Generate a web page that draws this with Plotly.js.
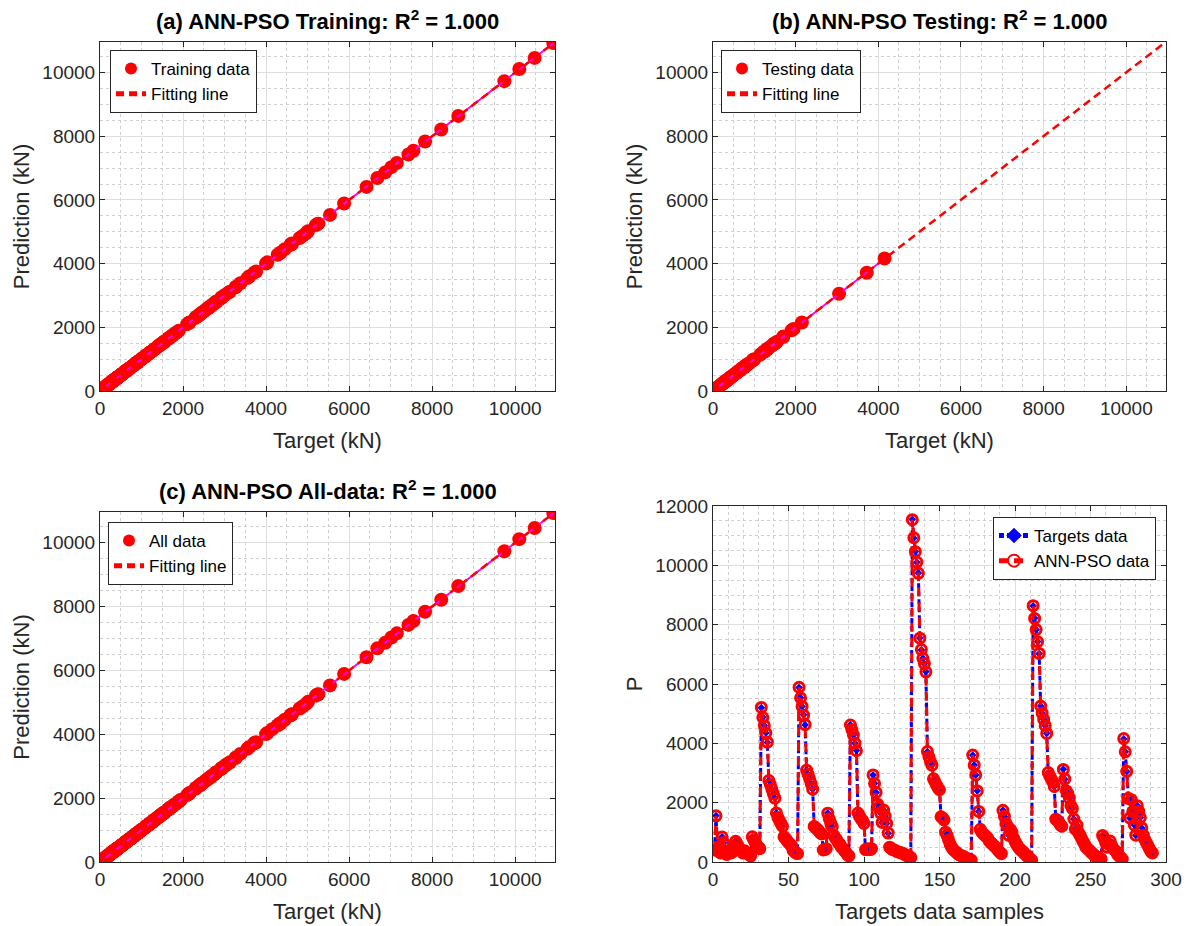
<!DOCTYPE html>
<html>
<head>
<meta charset="utf-8">
<script src="https://cdn.plot.ly/plotly-3.0.1.min.js"></script>
<style>
html,body{margin:0;padding:0;background:#fff;}
#chart{width:1189px;height:926px;}
</style>
</head>
<body>
<div id="chart"></div>
<script>
// ---- Data (sample index starts at 1) ----
const targets = [
400,1560,420,350,300,850,650,300,250,350,
400,300,350,450,700,600,500,400,350,300,
380,320,280,250,200,850,750,650,550,500,450,
5200,4880,4600,4350,4030,
2750,2600,2450,2300,2150,
1650,1500,1400,1300,1200,
850,800,720,650,600,550,400,350,300,280,
5880,5540,5240,4960,4620,
3100,2950,2800,2650,2450,
1200,1150,1100,1050,980,950,
400,420,450,
1650,1450,1300,1190,
900,800,750,650,600,500,450,380,320,250,200,
4620,4450,4280,4000,3760,
1650,1550,1450,1400,1300,
420,430,440,420,450,
2930,2650,2340,1950,1850,1650,1330,1750,1550,1300,970,
500,450,420,400,380,350,330,320,300,280,250,230,200,180,150,
11550,10920,10470,10100,9740,
7550,7150,6870,6680,6420,
3720,3550,3380,3270,2800,2700,2600,2500,2430,
1530,1480,1420,
1000,900,750,600,500,420,380,330,280,250,220,200,180,150,120,100,80,60,
3600,3270,2930,2400,1700,
1100,1000,950,900,850,800,700,650,600,550,500,450,380,320,280,
1750,1530,1300,1200,900,1100,1000,800,700,600,
500,450,400,350,300,250,200,150,100,60,
8630,8220,7830,7430,7020,
5260,5010,4810,4590,4340,
3010,2900,2800,2700,2540,
1440,1400,1350,1250,1200,
3130,2790,
2400,2300,2150,1900,1800,1450,1100,1250,1000,900,800,700,600,500,450,
400,350,300,250,200,170,150,120,100,
900,800,650,500,600,700,550,450,400,350,250,200,150,100,
4150,3720,3050,
2150,1480,2100,1700,1250,900,1900,1700,1500,1150,900,750,650,550,450,350,300
];
const predicted = [
405,1555,425,345,305,845,655,300,255,345,
400,305,350,445,700,605,495,400,355,300,
380,320,285,250,205,850,745,650,550,505,450,
5210,4870,4600,4345,4040,
2745,2605,2450,2295,2150,
1655,1500,1395,1300,1205,
850,795,720,650,605,550,400,350,300,285,
5890,5530,5245,4950,4630,
3095,2955,2800,2645,2455,
1200,1150,1105,1050,980,945,
405,420,450,
1645,1455,1300,1190,
900,805,750,650,600,500,455,380,320,250,205,
4615,4455,4280,4005,3750,
1650,1545,1450,1400,1305,
420,430,445,420,450,
2935,2645,2345,1950,1845,1650,1335,1750,1545,1300,975,
500,450,420,405,380,350,330,320,305,280,250,230,205,180,150,
11540,10930,10460,10110,9730,
7545,7160,6865,6690,6410,
3725,3545,3385,3265,2805,2700,2595,2500,2435,
1525,1485,1420,
1005,900,745,600,500,425,380,330,285,250,220,200,185,150,120,105,80,65,
3605,3265,2935,2395,1705,
1100,1005,950,900,855,800,700,655,600,550,505,450,380,325,280,
1745,1535,1300,1205,900,1095,1000,805,700,600,
505,450,400,355,300,250,205,150,100,65,
8640,8210,7835,7425,7030,
5255,5015,4805,4595,4335,
3015,2895,2805,2700,2545,
1445,1400,1345,1250,1205,
3120,2795,
2395,2305,2150,1905,1800,1450,1105,1245,1000,905,800,700,605,500,450,
405,350,300,255,200,175,150,120,105,
895,800,655,500,600,705,550,450,405,350,250,205,150,100,
4160,3715,3055,
2145,1485,2100,1695,1250,905,1895,1705,1500,1150,905,750,650,555,450,350,305
];
// indices (1-based sample numbers) used for testing; the rest are training
const testIdx = [3,6,9,13,16,20,24,27,30,41,43,47,50,54,68,71,74,77,81,84,88,97,100,103,109,112,116,119,122,126,129,152,156,160,163,167,170,176,179,183,186,190,194,198,203,207,210,228,231,237,241,244,247,251,255,259,263,266,269,272,273,274,276,279,282,286,289];

const titles = [
  '<b>(a) ANN-PSO Training: R<sup>2</sup> = 1.000</b>',
  '<b>(b) ANN-PSO Testing: R<sup>2</sup> = 1.000</b>',
  '<b>(c) ANN-PSO All-data: R<sup>2</sup> = 1.000</b>'
];
const dataNames = ['Training data','Testing data','All data'];
const axisMax = 10960;

// ---- split ----
const testSet = new Set(testIdx);
const trX=[],trY=[],teX=[],teY=[];
targets.forEach((t,i)=>{
  if(testSet.has(i+1)){teX.push(t);teY.push(predicted[i]);}
  else {trX.push(t);trY.push(predicted[i]);}
});
const sets = [[trX,trY],[teX,teY],[targets,predicted]];

function linfit(x,y){
  const n=x.length; let sx=0,sy=0,sxx=0,sxy=0;
  for(let i=0;i<n;i++){sx+=x[i];sy+=y[i];sxx+=x[i]*x[i];sxy+=x[i]*y[i];}
  const b=(n*sxy-sx*sy)/(n*sxx-sx*sx); const a=(sy-b*sx)/n; return [a,b];
}

const FONT = 'Liberation Sans, Arial, Helvetica, sans-serif';
const AXC = '#262626';
function axis(dom, anchor, range, dtick, minor, title, standoff){
  return {
    domain: dom, anchor: anchor, range: range, autorange:false,
    tick0: 0, dtick: dtick, tickformat:'d', ticks:'inside', ticklen:5, tickwidth:1, tickcolor:AXC,
    showline:true, linecolor:AXC, linewidth:1, mirror:'ticks',
    showgrid:true, gridcolor:'#dedede', gridwidth:1, zeroline:false,
    minor:{dtick:minor, tick0:0, showgrid:true, gridcolor:'#cfcfcf', griddash:'dot', gridwidth:1, ticks:''},
    tickfont:{family:FONT, size:19, color:AXC},
    title:{text:title, font:{family:FONT, size:22, color:AXC}, standoff:standoff},
    layer:'below traces'
  };
}

const colL=[100/1189, 555/1189], colR=[713/1189, 1166/1189];
const rowT=[(926-391)/926,(926-42)/926], rowC=[(926-862)/926,(926-512)/926], rowD=[(926-862)/926,(926-506)/926];

const traces=[];
const panels = [
  {xa:'x', ya:'y', leg:'legend'},
  {xa:'x2', ya:'y2', leg:'legend2'},
  {xa:'x3', ya:'y3', leg:'legend3'}
];
panels.forEach((p,k)=>{
  const [x,y]=sets[k];
  traces.push({type:'scatter', mode:'markers', x:x, y:y, xaxis:p.xa, yaxis:p.ya, legend:p.leg,
    name:dataNames[k], marker:{color:'#ff0000', size:14, symbol:'circle'}});
  const [a,b]=linfit(x,y);
  const mn=Math.min(...x), mx=Math.max(...x);
  traces.push({type:'scatter', mode:'lines', x:[mn,mx], y:[a+b*mn,a+b*mx], xaxis:p.xa, yaxis:p.ya,
    showlegend:false, line:{color:'#ff00ff', width:2}, hoverinfo:'skip'});
  traces.push({type:'scatter', mode:'lines', x:[0,axisMax], y:[a,a+b*axisMax], xaxis:p.xa, yaxis:p.ya, legend:p.leg,
    name:'Fitting line', line:{color:'#ff0000', width:2.5, dash:'8px,5px'}});
});
traces.push({type:'scatter', mode:'lines+markers', y:targets, x0:1, dx:1, xaxis:'x4', yaxis:'y4', legend:'legend4',
  name:'Targets data', line:{color:'#0000ff', width:3, dash:'5px,3px'}, marker:{symbol:'diamond', size:6, color:'#0000ff'}});
traces.push({type:'scatter', mode:'lines+markers', y:predicted, x0:1, dx:1, xaxis:'x4', yaxis:'y4', legend:'legend4',
  name:'ANN-PSO data', line:{color:'#ff0000', width:3, dash:'9px,6px'}, marker:{symbol:'circle-open', size:10, color:'#ff0000', line:{width:3, color:'#ff0000'}}});

const legStyle = (x,y,xa)=>({x:x, y:y, xanchor:xa, yanchor:'top', xref:'paper', yref:'paper',
  bgcolor:'#ffffff', bordercolor:AXC, borderwidth:1, font:{family:FONT, size:17, color:'#000'},
  itemsizing:'constant', tracegroupgap:0});

const layout = {
  width:1189, height:926, margin:{l:0,r:0,t:0,b:0}, paper_bgcolor:'#fff', plot_bgcolor:'#fff',
  showlegend:true,
  xaxis: axis(colL,'y',[0,axisMax],2000,500,'Target (kN)',14),
  yaxis: axis(rowT,'x',[0,axisMax],2000,500,'Prediction (kN)',6),
  xaxis2: axis(colR,'y2',[0,axisMax],2000,500,'Target (kN)',14),
  yaxis2: axis(rowT,'x2',[0,axisMax],2000,500,'Prediction (kN)',6),
  xaxis3: axis(colL,'y3',[0,axisMax],2000,500,'Target (kN)',14),
  yaxis3: axis(rowC,'x3',[0,axisMax],2000,500,'Prediction (kN)',6),
  xaxis4: axis(colR,'y4',[0,300],50,10,'Targets data samples',14),
  yaxis4: axis(rowD,'x4',[0,12000],2000,500,'P',6),
  legend: legStyle(110/1189,(926-50)/926,'left'),
  legend2: legStyle(721/1189,(926-50)/926,'left'),
  legend3: legStyle(108/1189,(926-522)/926,'left'),
  legend4: legStyle(1156/1189,(926-517)/926,'right'),
  annotations: [
    {text:titles[0], x:(colL[0]+colL[1])/2, y:rowT[1], xref:'paper', yref:'paper', xanchor:'center', yanchor:'bottom', yshift:6, showarrow:false, font:{family:FONT,size:22,color:'#000'}},
    {text:titles[1], x:(colR[0]+colR[1])/2, y:rowT[1], xref:'paper', yref:'paper', xanchor:'center', yanchor:'bottom', yshift:6, showarrow:false, font:{family:FONT,size:22,color:'#000'}},
    {text:titles[2], x:(colL[0]+colL[1])/2, y:rowC[1], xref:'paper', yref:'paper', xanchor:'center', yanchor:'bottom', yshift:6, showarrow:false, font:{family:FONT,size:22,color:'#000'}}
  ]
};

Plotly.newPlot('chart', traces, layout, {displayModeBar:false, staticPlot:true});
</script>
</body>
</html>
